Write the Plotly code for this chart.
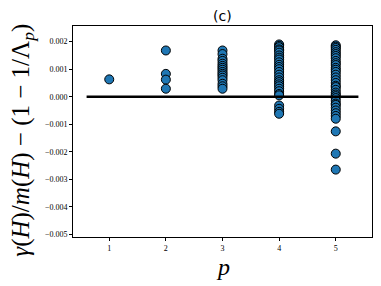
import plotly.graph_objects as go

p_values = [1, 2, 3, 4, 5]
gap_p1 = [0.00063]
gap_p2 = [0.00168, 0.00083, 0.00062, 0.00029]
gap_p3 = [0.00168, 0.00155, 0.00138, 0.0013, 0.0012, 0.00112, 0.00105, 0.00098, 0.0009,
          0.00083, 0.00077, 0.00069, 0.0006, 0.00047, 0.00038, 0.00029]
gap_p4 = [0.0019, 0.00185, 0.0018, 0.00172, 0.00168, 0.0016, 0.0015, 0.00142, 0.00135,
          0.00125, 0.00116, 0.00108, 0.001, 0.0009, 0.0008, 0.0007, 0.0006, 0.00053,
          0.00045, 0.00038, 0.00029, 0.0002, 0.0001, 0.00005,
          -0.00032, -0.00044, -0.00055, -0.00062]
gap_p5 = [0.00187, 0.00182, 0.00177, 0.0017, 0.00162, 0.00155, 0.00148, 0.0014, 0.0013,
          0.00122, 0.00115, 0.00105, 0.00098, 0.0009, 0.0008, 0.0007, 0.0006, 0.0005,
          0.0004, 0.00035, 0.00025, 0.00015, 0.00008, 0.00002, -0.00005, -0.00015,
          -0.00025, -0.0003, -0.0004, -0.0005, -0.0006, -0.0007, -0.0008,
          -0.00126, -0.00207, -0.00265]
hline_x = [0.6, 5.4]
hline_y = [0.0, 0.0]
y_ticks = [0.002, 0.001, 0.0, -0.001, -0.002, -0.003, -0.004, -0.005]

xs, ys = [], []
for p, vals in zip(p_values, [gap_p1, gap_p2, gap_p3, gap_p4, gap_p5]):
    xs += [p] * len(vals)
    ys += vals

fig = go.Figure()
fig.add_trace(go.Scatter(
    x=xs, y=ys, mode="markers",
    marker=dict(size=9, color="#1f77b4", line=dict(color="black", width=1)),
    showlegend=False))
fig.add_trace(go.Scatter(
    x=hline_x, y=hline_y, mode="lines",
    line=dict(color="black", width=2.5), showlegend=False))

tick_text = [("%.3f" % v).replace("-", "\u2212") if abs(v) > 1e-12 else "0.000" for v in y_ticks]

fig.update_layout(
    width=381, height=286,
    margin=dict(l=65, r=17, t=18, b=57),
    paper_bgcolor="white", plot_bgcolor="white",
    xaxis=dict(range=[0.36, 5.64], tickvals=p_values, ticktext=[str(p) for p in p_values],
               showline=True, mirror=True, linecolor="black", linewidth=1, automargin=False,
               ticks="outside", ticklen=3, tickcolor="black", showgrid=False, zeroline=False,
               tickfont=dict(family="Liberation Serif", size=8, color="black")),
    yaxis=dict(range=[-0.0051, 0.00257], tickvals=y_ticks, ticktext=tick_text,
               showline=True, mirror=True, linecolor="black", linewidth=1, automargin=False,
               ticks="outside", ticklen=3, tickcolor="black", showgrid=False, zeroline=False,
               tickfont=dict(family="Liberation Serif", size=8, color="black")),
    annotations=[
        dict(text="(c)", xref="paper", yref="paper", x=0.5, y=1.047,
             showarrow=False, xanchor="center", yanchor="middle",
             font=dict(family="DejaVu Sans", size=14, color="black")),
        dict(text="<i>γ</i>(<i>H</i>)/<i>m</i>(<i>H</i>) − (1 − 1/Λ<sub><i>p</i></sub>)",
             xref="paper", yref="paper", x=-0.168, y=0.46, textangle=-90,
             showarrow=False, xanchor="center", yanchor="middle",
             font=dict(family="Liberation Serif", size=25, color="black")),
        dict(text="<i>p</i>", xref="paper", yref="paper", x=0.5, y=-0.14,
             showarrow=False, xanchor="center", yanchor="middle",
             font=dict(family="Liberation Serif", size=24, color="black")),
    ],
)

fig.write_html("out.html")
